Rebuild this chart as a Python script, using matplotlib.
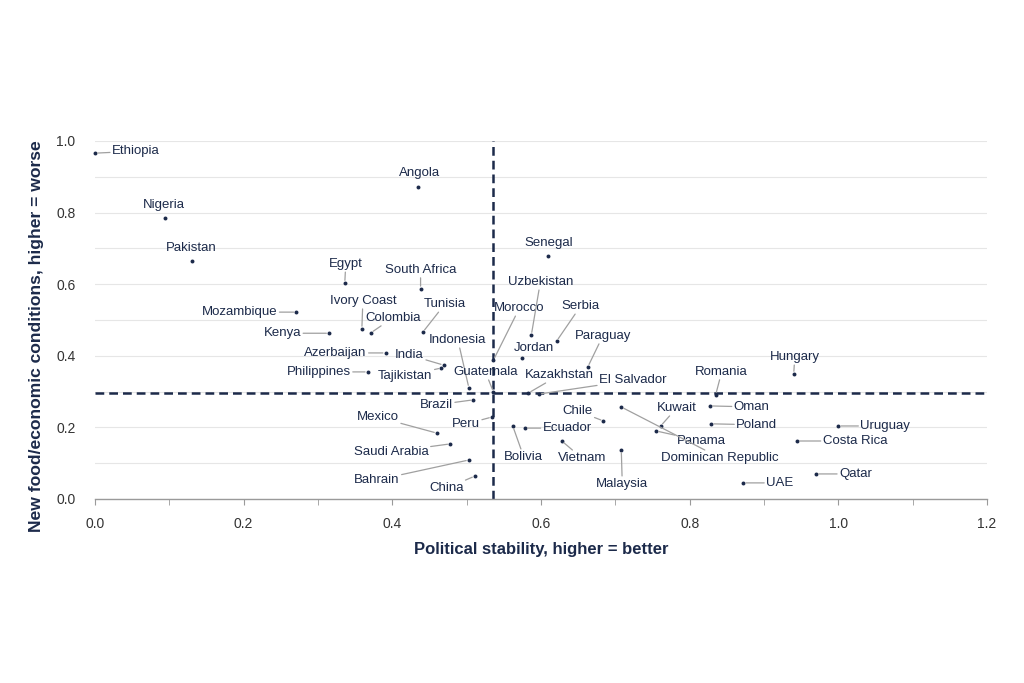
import matplotlib
matplotlib.use("Agg")
import matplotlib.pyplot as plt
from matplotlib.ticker import MultipleLocator

plt.rcParams['font.family'] = ['Liberation Sans', 'DejaVu Sans']

# ---- data ----
countries = ["Ethiopia", "Angola", "Nigeria", "Pakistan", "Egypt", "South Africa",
             "Ivory Coast", "Colombia", "Tunisia", "Mozambique", "Kenya", "Azerbaijan",
             "India", "Tajikistan", "Philippines", "Indonesia", "Guatemala", "Morocco",
             "Brazil", "Peru", "Mexico", "Saudi Arabia", "Bahrain", "China",
             "Senegal", "Uzbekistan", "Serbia", "Jordan", "Paraguay", "Kazakhstan",
             "El Salvador", "Romania", "Hungary", "Oman", "Poland", "Uruguay",
             "Costa Rica", "Qatar", "UAE", "Kuwait", "Panama", "Dominican Republic",
             "Chile", "Malaysia", "Vietnam", "Ecuador", "Bolivia"]
political_stability = [0.000, 0.435, 0.094, 0.130, 0.336, 0.438,
                       0.359, 0.371, 0.441, 0.271, 0.315, 0.391,
                       0.469, 0.466, 0.367, 0.503, 0.536, 0.536,
                       0.509, 0.534, 0.460, 0.478, 0.503, 0.511,
                       0.610, 0.587, 0.621, 0.575, 0.663, 0.583,
                       0.597, 0.835, 0.940, 0.827, 0.829, 1.000,
                       0.944, 0.970, 0.872, 0.761, 0.755, 0.708,
                       0.684, 0.708, 0.628, 0.578, 0.562]
food_economic = [0.966, 0.871, 0.785, 0.665, 0.603, 0.587,
                 0.475, 0.464, 0.466, 0.522, 0.463, 0.408,
                 0.374, 0.366, 0.355, 0.310, 0.299, 0.388,
                 0.277, 0.229, 0.184, 0.154, 0.109, 0.064,
                 0.679, 0.458, 0.441, 0.394, 0.369, 0.296,
                 0.293, 0.291, 0.349, 0.260, 0.210, 0.204,
                 0.162, 0.070, 0.045, 0.204, 0.190, 0.257,
                 0.218, 0.137, 0.162, 0.198, 0.204]
stability_threshold = 0.535
food_threshold = 0.296

# ---- label placement (pixel offsets from point, alignment, leader line) ----
label_layout = {
    "Ethiopia": (17, 2, 'left', True), "Angola": (1, 14, 'center', False),
    "Nigeria": (-1, 13, 'center', False), "Pakistan": (0, 13, 'center', False),
    "Egypt": (1, 19, 'center', True), "South Africa": (0, 19, 'center', True),
    "Ivory Coast": (1, 28, 'center', True), "Colombia": (22, 15, 'center', True),
    "Tunisia": (22, 28, 'center', True), "Mozambique": (-19, 0, 'right', True),
    "Kenya": (-28, 0, 'right', True), "Azerbaijan": (-19, 0, 'right', True),
    "India": (-34, 10, 'center', True), "Tajikistan": (-36, -8, 'center', True),
    "Philippines": (-17, 0, 'right', True), "Indonesia": (-11, 48, 'center', True),
    "Guatemala": (-8, 20, 'center', True), "Morocco": (26, 52, 'center', True),
    "Brazil": (-37, -5, 'center', True), "Peru": (-26, -7, 'center', True),
    "Mexico": (-59, 16, 'center', True), "Saudi Arabia": (-59, -8, 'center', True),
    "Bahrain": (-92, -20, 'center', True), "China": (-28, -12, 'center', True),
    "Senegal": (0, 13, 'center', False), "Uzbekistan": (9, 53, 'center', True),
    "Serbia": (24, 35, 'center', True), "Jordan": (12, 10, 'center', False),
    "Paraguay": (15, 31, 'center', True), "Kazakhstan": (31, 18, 'center', True),
    "El Salvador": (94, 14, 'center', True), "Romania": (6, 23, 'center', True),
    "Hungary": (1, 17, 'center', True), "Oman": (24, -1, 'left', True),
    "Poland": (25, -1, 'left', True), "Uruguay": (22, 0, 'left', True),
    "Costa Rica": (26, 0, 'left', True), "Qatar": (23, 0, 'left', True),
    "UAE": (23, 0, 'left', True), "Kuwait": (16, 18, 'center', True),
    "Panama": (45, -10, 'center', True), "Dominican Republic": (99, -51, 'center', True),
    "Chile": (-26, 10, 'center', True), "Malaysia": (1, -34, 'center', True),
    "Vietnam": (20, -17, 'center', True), "Ecuador": (18, 0, 'left', True),
    "Bolivia": (11, -31, 'center', True),
}

navy = '#1c2a4a'
grey_line = '#a0a0a0'

fig = plt.figure(figsize=(10.24, 6.83), dpi=100)
ax = fig.add_axes([95 / 1024, 1 - 499 / 683, (987 - 95) / 1024, (499 - 141) / 683])

ax.set_xlim(0, 1.2)
ax.set_ylim(0, 1.0)
ax.xaxis.set_major_locator(MultipleLocator(0.2))
ax.xaxis.set_minor_locator(MultipleLocator(0.1))
ax.yaxis.set_major_locator(MultipleLocator(0.2))
ax.yaxis.set_minor_locator(MultipleLocator(0.1))
ax.xaxis.set_major_formatter(plt.FormatStrFormatter('%.1f'))
ax.yaxis.set_major_formatter(plt.FormatStrFormatter('%.1f'))

ax.grid(True, which='both', axis='y', color='#e6e6e6', linewidth=0.8)
ax.set_axisbelow(True)
for s in ['top', 'right', 'left']:
    ax.spines[s].set_visible(False)
ax.spines['bottom'].set_color('#9a9a9a')
ax.spines['bottom'].set_linewidth(1.0)
ax.tick_params(axis='x', which='both', length=4, color='#9a9a9a', pad=9,
               labelsize=10, labelcolor='#333333')
ax.tick_params(axis='y', which='both', length=0, pad=14, labelsize=10, labelcolor='#333333')

ax.axvline(stability_threshold, color=navy, linestyle=(0, (3.5, 2)), linewidth=1.8, zorder=2)
ax.axhline(food_threshold, color=navy, linestyle=(0, (3.5, 2)), linewidth=1.8, zorder=2)

ax.scatter(political_stability, food_economic, s=8, color=navy, zorder=4, linewidths=0,
           clip_on=False)

for name, x, y in zip(countries, political_stability, food_economic):
    dx, dy, ha, leader = label_layout[name]
    arrow = dict(arrowstyle='-', color=grey_line, lw=0.9, shrinkA=0, shrinkB=2) if leader else None
    ax.annotate(name, xy=(x, y), xytext=(dx, dy), textcoords='offset pixels',
                ha=ha, va='center', fontsize=9.5, color=navy,
                bbox=dict(boxstyle='square,pad=0.15', fc='none', ec='none'),
                arrowprops=arrow, zorder=5, annotation_clip=False)

ax.set_xlabel('Political stability, higher = better', fontsize=12, fontweight='bold',
              color=navy, labelpad=8)
ax.set_ylabel('New food/economic conditions, higher = worse', fontsize=12.6,
              fontweight='bold', color=navy)
ax.yaxis.set_label_coords(-0.057, 0.455)

fig.savefig('out.png', dpi=100, facecolor='white')
